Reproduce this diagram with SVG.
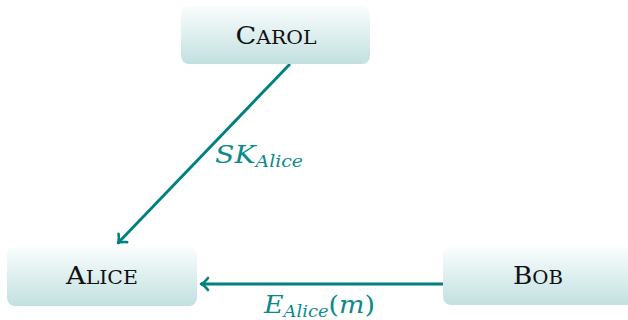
<svg xmlns="http://www.w3.org/2000/svg" width="628" height="320" viewBox="0 0 628 320">
<defs>
<linearGradient id="g" x1="0" y1="0" x2="0" y2="1">
<stop offset="0" stop-color="#fafdfd"/>
<stop offset="1" stop-color="#c2e0e0"/>
</linearGradient>
<marker id="arr" viewBox="-10 -8 12 16" refX="0" refY="0" markerWidth="12" markerHeight="16" markerUnits="userSpaceOnUse" orient="auto">
<path d="M -7 -6 Q -3 -1 0 0 Q -3 1 -7 6" fill="none" stroke="#008080" stroke-width="2.6" stroke-linecap="round" stroke-linejoin="round"/>
</marker>
</defs>
<style>
.box{fill:url(#g);}
.nl{font-family:"DejaVu Serif","Liberation Serif",serif;fill:#111;text-anchor:middle;}
.edge{stroke:#008080;stroke-width:2.9;fill:none;marker-end:url(#arr);}
.lbl{font-family:"DejaVu Serif","Liberation Serif",serif;font-style:italic;fill:#0b8a88;}
</style>
<g id="connectors">
<line class="edge" x1="290" y1="64" x2="118" y2="243"/>
<line class="edge" x1="443" y1="284" x2="201" y2="284"/>
<text class="lbl" x="215" y="163" font-size="24" textLength="88" lengthAdjust="spacingAndGlyphs">SK<tspan font-size="16" dy="4">Alice</tspan></text>
<text class="lbl" x="264" y="313" font-size="24" textLength="111" lengthAdjust="spacingAndGlyphs">E<tspan font-size="16" dy="4">Alice</tspan><tspan font-style="normal" dy="-4">(</tspan>m<tspan font-style="normal">)</tspan></text>
</g>
<g id="carol">
<rect class="box" x="181" y="6" width="189" height="58" rx="8"/>
<text class="nl" x="276" y="44" font-size="24" textLength="81" lengthAdjust="spacingAndGlyphs">C<tspan font-size="18">AROL</tspan></text>
</g>
<g id="alice">
<rect class="box" x="7" y="247" width="190" height="59" rx="8"/>
<text class="nl" x="102" y="284" font-size="24" textLength="72" lengthAdjust="spacingAndGlyphs">A<tspan font-size="18">LICE</tspan></text>
</g>
<g id="bob">
<rect class="box" x="443" y="247" width="190" height="58" rx="8"/>
<text class="nl" x="538" y="284" font-size="24" textLength="50" lengthAdjust="spacingAndGlyphs">B<tspan font-size="18">OB</tspan></text>
</g>
</svg>
